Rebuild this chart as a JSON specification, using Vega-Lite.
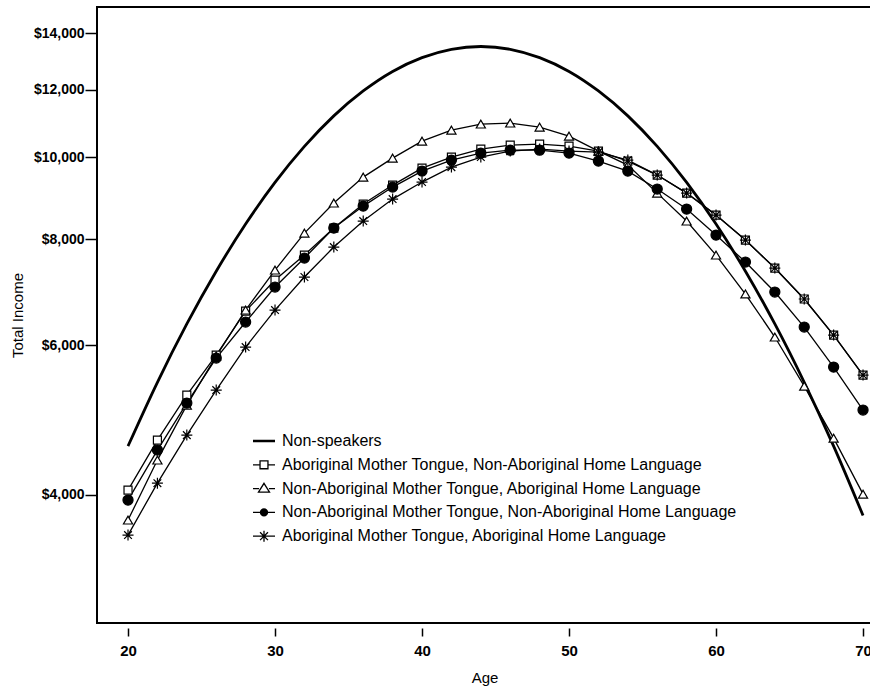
{
  "$schema": "https://vega.github.io/schema/vega-lite/v6.json",
  "width": 775,
  "height": 616,
  "autosize": "none",
  "padding": {"left": 97, "top": 7, "right": 0, "bottom": 69},
  "background": "white",
  "config": {
    "font": "Liberation Sans",
    "view": {"stroke": "black", "strokeWidth": 2},
    "axis": {"grid": false, "domain": false, "tickColor": "black", "labelColor": "black", "titleColor": "black", "tickWidth": 1.5}
  },
  "data": {"values": [
    {"s":"Non-speakers","age":20,"v":4562},{"s":"Non-speakers","age":22,"v":5425},{"s":"Non-speakers","age":24,"v":6356},{"s":"Non-speakers","age":26,"v":7334},{"s":"Non-speakers","age":28,"v":8336},{"s":"Non-speakers","age":30,"v":9333},{"s":"Non-speakers","age":32,"v":10292},{"s":"Non-speakers","age":34,"v":11182},{"s":"Non-speakers","age":36,"v":11964},{"s":"Non-speakers","age":38,"v":12616},{"s":"Non-speakers","age":40,"v":13098},{"s":"Non-speakers","age":42,"v":13397},{"s":"Non-speakers","age":44,"v":13500},{"s":"Non-speakers","age":46,"v":13397},{"s":"Non-speakers","age":48,"v":13098},{"s":"Non-speakers","age":50,"v":12616},{"s":"Non-speakers","age":52,"v":11964},{"s":"Non-speakers","age":54,"v":11182},{"s":"Non-speakers","age":56,"v":10292},{"s":"Non-speakers","age":58,"v":9333},{"s":"Non-speakers","age":60,"v":8336},{"s":"Non-speakers","age":62,"v":7334},{"s":"Non-speakers","age":64,"v":6356},{"s":"Non-speakers","age":66,"v":5425},{"s":"Non-speakers","age":68,"v":4562},{"s":"Non-speakers","age":70,"v":3778},

    {"s":"Aboriginal Mother Tongue, Non-Aboriginal Home Language","age":20,"v":4048},{"s":"Aboriginal Mother Tongue, Non-Aboriginal Home Language","age":22,"v":4636},{"s":"Aboriginal Mother Tongue, Non-Aboriginal Home Language","age":24,"v":5239},{"s":"Aboriginal Mother Tongue, Non-Aboriginal Home Language","age":26,"v":5840},{"s":"Aboriginal Mother Tongue, Non-Aboriginal Home Language","age":28,"v":6582},{"s":"Aboriginal Mother Tongue, Non-Aboriginal Home Language","age":30,"v":7160},{"s":"Aboriginal Mother Tongue, Non-Aboriginal Home Language","age":32,"v":7663},{"s":"Aboriginal Mother Tongue, Non-Aboriginal Home Language","age":34,"v":8245},{"s":"Aboriginal Mother Tongue, Non-Aboriginal Home Language","age":36,"v":8801},{"s":"Aboriginal Mother Tongue, Non-Aboriginal Home Language","age":38,"v":9267},{"s":"Aboriginal Mother Tongue, Non-Aboriginal Home Language","age":40,"v":9704},{"s":"Aboriginal Mother Tongue, Non-Aboriginal Home Language","age":42,"v":9998},{"s":"Aboriginal Mother Tongue, Non-Aboriginal Home Language","age":44,"v":10217},{"s":"Aboriginal Mother Tongue, Non-Aboriginal Home Language","age":46,"v":10329},{"s":"Aboriginal Mother Tongue, Non-Aboriginal Home Language","age":48,"v":10357},{"s":"Aboriginal Mother Tongue, Non-Aboriginal Home Language","age":50,"v":10301},{"s":"Aboriginal Mother Tongue, Non-Aboriginal Home Language","age":52,"v":10162},{"s":"Aboriginal Mother Tongue, Non-Aboriginal Home Language","age":54,"v":9890},{"s":"Aboriginal Mother Tongue, Non-Aboriginal Home Language","age":56,"v":9522},{"s":"Aboriginal Mother Tongue, Non-Aboriginal Home Language","age":58,"v":9067},{"s":"Aboriginal Mother Tongue, Non-Aboriginal Home Language","age":60,"v":8541},{"s":"Aboriginal Mother Tongue, Non-Aboriginal Home Language","age":62,"v":7981},{"s":"Aboriginal Mother Tongue, Non-Aboriginal Home Language","age":64,"v":7397},{"s":"Aboriginal Mother Tongue, Non-Aboriginal Home Language","age":66,"v":6801},{"s":"Aboriginal Mother Tongue, Non-Aboriginal Home Language","age":68,"v":6167},{"s":"Aboriginal Mother Tongue, Non-Aboriginal Home Language","age":70,"v":5532},

    {"s":"Non-Aboriginal Mother Tongue, Aboriginal Home Language","age":20,"v":3732},{"s":"Non-Aboriginal Mother Tongue, Aboriginal Home Language","age":22,"v":4392},{"s":"Non-Aboriginal Mother Tongue, Aboriginal Home Language","age":24,"v":5099},{"s":"Non-Aboriginal Mother Tongue, Aboriginal Home Language","age":26,"v":5825},{"s":"Non-Aboriginal Mother Tongue, Aboriginal Home Language","age":28,"v":6600},{"s":"Non-Aboriginal Mother Tongue, Aboriginal Home Language","age":30,"v":7357},{"s":"Non-Aboriginal Mother Tongue, Aboriginal Home Language","age":32,"v":8134},{"s":"Non-Aboriginal Mother Tongue, Aboriginal Home Language","age":34,"v":8825},{"s":"Non-Aboriginal Mother Tongue, Aboriginal Home Language","age":36,"v":9470},{"s":"Non-Aboriginal Mother Tongue, Aboriginal Home Language","age":38,"v":9971},{"s":"Non-Aboriginal Mother Tongue, Aboriginal Home Language","age":40,"v":10442},{"s":"Non-Aboriginal Mother Tongue, Aboriginal Home Language","age":42,"v":10759},{"s":"Non-Aboriginal Mother Tongue, Aboriginal Home Language","age":44,"v":10936},{"s":"Non-Aboriginal Mother Tongue, Aboriginal Home Language","age":46,"v":10966},{"s":"Non-Aboriginal Mother Tongue, Aboriginal Home Language","age":48,"v":10846},{"s":"Non-Aboriginal Mother Tongue, Aboriginal Home Language","age":50,"v":10585},{"s":"Non-Aboriginal Mother Tongue, Aboriginal Home Language","age":52,"v":10162},{"s":"Non-Aboriginal Mother Tongue, Aboriginal Home Language","age":54,"v":9784},{"s":"Non-Aboriginal Mother Tongue, Aboriginal Home Language","age":56,"v":9067},{"s":"Non-Aboriginal Mother Tongue, Aboriginal Home Language","age":58,"v":8404},{"s":"Non-Aboriginal Mother Tongue, Aboriginal Home Language","age":60,"v":7663},{"s":"Non-Aboriginal Mother Tongue, Aboriginal Home Language","age":62,"v":6894},{"s":"Non-Aboriginal Mother Tongue, Aboriginal Home Language","age":64,"v":6134},{"s":"Non-Aboriginal Mother Tongue, Aboriginal Home Language","age":66,"v":5368},{"s":"Non-Aboriginal Mother Tongue, Aboriginal Home Language","age":68,"v":4661},{"s":"Non-Aboriginal Mother Tongue, Aboriginal Home Language","age":70,"v":4004},

    {"s":"Non-Aboriginal Mother Tongue, Non-Aboriginal Home Language","age":20,"v":3940},{"s":"Non-Aboriginal Mother Tongue, Non-Aboriginal Home Language","age":22,"v":4513},{"s":"Non-Aboriginal Mother Tongue, Non-Aboriginal Home Language","age":24,"v":5127},{"s":"Non-Aboriginal Mother Tongue, Non-Aboriginal Home Language","age":26,"v":5794},{"s":"Non-Aboriginal Mother Tongue, Non-Aboriginal Home Language","age":28,"v":6389},{"s":"Non-Aboriginal Mother Tongue, Non-Aboriginal Home Language","age":30,"v":7026},{"s":"Non-Aboriginal Mother Tongue, Non-Aboriginal Home Language","age":32,"v":7601},{"s":"Non-Aboriginal Mother Tongue, Non-Aboriginal Home Language","age":34,"v":8245},{"s":"Non-Aboriginal Mother Tongue, Non-Aboriginal Home Language","age":36,"v":8753},{"s":"Non-Aboriginal Mother Tongue, Non-Aboriginal Home Language","age":38,"v":9217},{"s":"Non-Aboriginal Mother Tongue, Non-Aboriginal Home Language","age":40,"v":9625},{"s":"Non-Aboriginal Mother Tongue, Non-Aboriginal Home Language","age":42,"v":9917},{"s":"Non-Aboriginal Mother Tongue, Non-Aboriginal Home Language","age":44,"v":10107},{"s":"Non-Aboriginal Mother Tongue, Non-Aboriginal Home Language","age":46,"v":10189},{"s":"Non-Aboriginal Mother Tongue, Non-Aboriginal Home Language","age":48,"v":10189},{"s":"Non-Aboriginal Mother Tongue, Non-Aboriginal Home Language","age":50,"v":10107},{"s":"Non-Aboriginal Mother Tongue, Non-Aboriginal Home Language","age":52,"v":9890},{"s":"Non-Aboriginal Mother Tongue, Non-Aboriginal Home Language","age":54,"v":9625},{"s":"Non-Aboriginal Mother Tongue, Non-Aboriginal Home Language","age":56,"v":9167},{"s":"Non-Aboriginal Mother Tongue, Non-Aboriginal Home Language","age":58,"v":8682},{"s":"Non-Aboriginal Mother Tongue, Non-Aboriginal Home Language","age":60,"v":8090},{"s":"Non-Aboriginal Mother Tongue, Non-Aboriginal Home Language","age":62,"v":7519},{"s":"Non-Aboriginal Mother Tongue, Non-Aboriginal Home Language","age":64,"v":6931},{"s":"Non-Aboriginal Mother Tongue, Non-Aboriginal Home Language","age":66,"v":6303},{"s":"Non-Aboriginal Mother Tongue, Non-Aboriginal Home Language","age":68,"v":5653},{"s":"Non-Aboriginal Mother Tongue, Non-Aboriginal Home Language","age":70,"v":5031},

    {"s":"Aboriginal Mother Tongue, Aboriginal Home Language","age":20,"v":3583},{"s":"Aboriginal Mother Tongue, Aboriginal Home Language","age":22,"v":4125},{"s":"Aboriginal Mother Tongue, Aboriginal Home Language","age":24,"v":4700},{"s":"Aboriginal Mother Tongue, Aboriginal Home Language","age":26,"v":5311},{"s":"Aboriginal Mother Tongue, Aboriginal Home Language","age":28,"v":5969},{"s":"Aboriginal Mother Tongue, Aboriginal Home Language","age":30,"v":6600},{"s":"Aboriginal Mother Tongue, Aboriginal Home Language","age":32,"v":7219},{"s":"Aboriginal Mother Tongue, Aboriginal Home Language","age":34,"v":7831},{"s":"Aboriginal Mother Tongue, Aboriginal Home Language","age":36,"v":8404},{"s":"Aboriginal Mother Tongue, Aboriginal Home Language","age":38,"v":8921},{"s":"Aboriginal Mother Tongue, Aboriginal Home Language","age":40,"v":9343},{"s":"Aboriginal Mother Tongue, Aboriginal Home Language","age":42,"v":9730},{"s":"Aboriginal Mother Tongue, Aboriginal Home Language","age":44,"v":9998},{"s":"Aboriginal Mother Tongue, Aboriginal Home Language","age":46,"v":10162},{"s":"Aboriginal Mother Tongue, Aboriginal Home Language","age":48,"v":10217},{"s":"Aboriginal Mother Tongue, Aboriginal Home Language","age":50,"v":10162},{"s":"Aboriginal Mother Tongue, Aboriginal Home Language","age":52,"v":10134},{"s":"Aboriginal Mother Tongue, Aboriginal Home Language","age":54,"v":9917},{"s":"Aboriginal Mother Tongue, Aboriginal Home Language","age":56,"v":9522},{"s":"Aboriginal Mother Tongue, Aboriginal Home Language","age":58,"v":9067},{"s":"Aboriginal Mother Tongue, Aboriginal Home Language","age":60,"v":8541},{"s":"Aboriginal Mother Tongue, Aboriginal Home Language","age":62,"v":7981},{"s":"Aboriginal Mother Tongue, Aboriginal Home Language","age":64,"v":7397},{"s":"Aboriginal Mother Tongue, Aboriginal Home Language","age":66,"v":6801},{"s":"Aboriginal Mother Tongue, Aboriginal Home Language","age":68,"v":6167},{"s":"Aboriginal Mother Tongue, Aboriginal Home Language","age":70,"v":5532}
  ]},
  "encoding": {
    "x": {"field": "age", "type": "quantitative",
      "scale": {"domain": [17.89, 70.61], "nice": false, "zero": false},
      "axis": {"values": [20, 30, 40, 50, 60, 70], "offset": 5, "tickSize": 8, "labelFontSize": 15, "labelPadding": 7, "labelFontWeight": "bold", "title": "Age", "titleFontSize": 15, "titleFontWeight": "normal", "titlePadding": 12}},
    "y": {"field": "v", "type": "quantitative",
      "scale": {"type": "log", "domain": [2822, 15028], "nice": false},
      "axis": {"values": [4000, 6000, 8000, 10000, 12000, 14000], "format": "$,.0f", "tickSize": 12, "labelFontSize": 14, "labelPadding": 1, "labelFontWeight": "bold", "title": "Total Income", "titleFontSize": 15, "titleFontWeight": "normal", "titlePadding": 8}}
  },
  "layer": [
    {
      "transform": [{"filter": "datum.s != 'Non-speakers'"}],
      "mark": {"type": "line", "stroke": "black", "strokeWidth": 1.3, "clip": true},
      "encoding": {"detail": {"field": "s"}}
    },
    {
      "transform": [{"filter": "datum.s == 'Non-speakers'"}],
      "mark": {"type": "line", "stroke": "black", "strokeWidth": 2.8, "interpolate": "monotone", "clip": true},
      "encoding": {"detail": {"field": "s"}}
    },
    {
      "transform": [{"filter": "datum.s != 'Non-speakers'"}],
      "mark": {"type": "point", "stroke": "black", "strokeWidth": 1.2, "opacity": 1, "clip": true},
      "encoding": {
        "shape": {"field": "s", "legend": null,
          "scale": {"domain": ["Aboriginal Mother Tongue, Non-Aboriginal Home Language", "Non-Aboriginal Mother Tongue, Aboriginal Home Language", "Non-Aboriginal Mother Tongue, Non-Aboriginal Home Language", "Aboriginal Mother Tongue, Aboriginal Home Language"],
            "range": ["square", "triangle-up", "circle", "M-1,0L1,0M0,-1L0,1M-0.7,-0.7L0.7,0.7M-0.7,0.7L0.7,-0.7"]}},
        "fill": {"field": "s", "legend": null,
          "scale": {"domain": ["Aboriginal Mother Tongue, Non-Aboriginal Home Language", "Non-Aboriginal Mother Tongue, Aboriginal Home Language", "Non-Aboriginal Mother Tongue, Non-Aboriginal Home Language", "Aboriginal Mother Tongue, Aboriginal Home Language"],
            "range": ["white", "white", "black", "white"]}},
        "size": {"field": "s", "legend": null,
          "scale": {"domain": ["Aboriginal Mother Tongue, Non-Aboriginal Home Language", "Non-Aboriginal Mother Tongue, Aboriginal Home Language", "Non-Aboriginal Mother Tongue, Non-Aboriginal Home Language", "Aboriginal Mother Tongue, Aboriginal Home Language"],
            "range": [64, 121, 42, 144]}}
      }
    },
    {
      "transform": [{"filter": "datum.age < 0"}],
      "mark": {"type": "point", "filled": false, "stroke": "black", "strokeWidth": 1.3, "opacity": 1},
      "encoding": {
        "shape": {"field": "s", "title": null,
          "scale": {"domain": ["Non-speakers", "Aboriginal Mother Tongue, Non-Aboriginal Home Language", "Non-Aboriginal Mother Tongue, Aboriginal Home Language", "Non-Aboriginal Mother Tongue, Non-Aboriginal Home Language", "Aboriginal Mother Tongue, Aboriginal Home Language"],
            "range": ["M-1,-0.06L1,-0.06M-1,0L1,0M-1,0.06L1,0.06", "M-1,0L-0.36,0M0.36,0L1,0M-0.36,-0.36L0.36,-0.36L0.36,0.36L-0.36,0.36Z", "M-1,0L-0.45,0M0.45,0L1,0M0,-0.48L0.5,0.32L-0.5,0.32Z", "M-1,0L1,0M-0.32,0A0.32,0.32 0 1,0 0.32,0A0.32,0.32 0 1,0 -0.32,0ZM-0.22,0A0.22,0.22 0 1,0 0.22,0A0.22,0.22 0 1,0 -0.22,0ZM-0.12,0A0.12,0.12 0 1,0 0.12,0A0.12,0.12 0 1,0 -0.12,0ZM-0.04,0A0.04,0.04 0 1,0 0.04,0A0.04,0.04 0 1,0 -0.04,0Z", "M-1,0L1,0M0,-0.5L0,0.5M-0.36,-0.36L0.36,0.36M-0.36,0.36L0.36,-0.36"]},
          "legend": {"orient": "none", "legendX": 155, "legendY": 422, "symbolSize": 484, "symbolStrokeWidth": 1.3, "symbolStrokeColor": "black", "symbolFillColor": "transparent", "symbolOpacity": 1, "labelFontSize": 16, "labelFont": "Liberation Sans", "labelColor": "black", "labelOffset": 6, "rowPadding": 3.8, "padding": 0, "labelLimit": 800}}
      }
    }
  ],
  "resolve": {"scale": {"shape": "independent", "fill": "independent"}}
}
